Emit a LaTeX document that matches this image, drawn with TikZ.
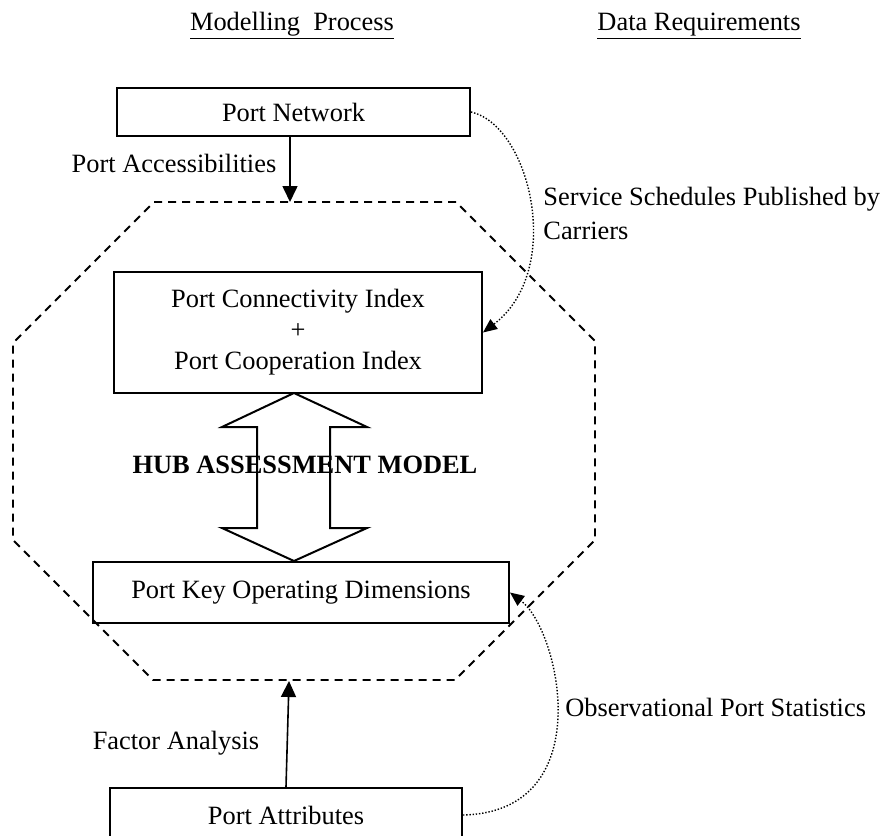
\documentclass[tikz,border=0pt]{standalone}
\usepackage{fontspec}
\setmainfont{Liberation Serif}
\usetikzlibrary{arrows.meta}
\begin{document}
\begin{tikzpicture}[x=0.5pt,y=-0.5pt,
  txt/.style={font=\fontsize{13.2pt}{15.5pt}\selectfont, inner sep=0pt},
  box/.style={txt, draw, line width=1pt, align=center},
  arr/.style={line width=0.8pt, -{Triangle[length=8pt,width=7.5pt]}},
  dotarr/.style={line width=0.7pt, dash pattern=on 0.7pt off 0.9pt, -{Triangle[length=7pt,width=6pt]}},
  octo/.style={line width=0.9pt, dash pattern=on 4pt off 3pt, line join=round},
  bigarrow/.style={line width=1pt, line join=miter}]
\useasboundingbox (0,0) rectangle (885,836);
\clip (0,0) rectangle (885,836);

% headings
\node[txt, anchor=base] (h1) at (292,30) {\underline{Modelling\ \ Process}};
\node[txt, anchor=base] (h2) at (699,30) {\underline{Data Requirements}};

% hub octagon
\draw[octo] (154,202) -- (456,202) -- (595,341) -- (595,540) -- (455,680)
  -- (153,680) -- (13,540) -- (13,343) -- cycle;
\coordinate (octtop) at (290,202);
\coordinate (octbot) at (289,681);

% boxes
\node[box, minimum width=176.5pt, minimum height=24pt] (net) at (293.5,112) {Port Network};
\node[box, minimum width=184pt, minimum height=60.5pt] (conn) at (298,332.5)
  {Port Connectivity Index\\+\\Port Cooperation Index};
\node[box, minimum width=208pt, minimum height=30.5pt] (key) at (301,592.5) {Port Key Operating Dimensions};
\node[box, minimum width=176pt, minimum height=27pt] (attr) at (286,815) {Port Attributes};

% double arrow
\draw[bigarrow] (294,393) -- (367,427) -- (330,427) -- (330,528) -- (367,528)
  -- (294,561) -- (222,528) -- (257,528) -- (257,427) -- (222,427) -- cycle;
\node[txt, font=\fontsize{13.2pt}{15.5pt}\selectfont\bfseries] (hub) at (305,465) {HUB ASSESSMENT MODEL};

% labels
\node[txt] (acc) at (174,163) {Port Accessibilities};
\node[txt, font=\fontsize{13.2pt}{17pt}\selectfont, align=left, anchor=north west] (svc) at (543,187)
  {Service Schedules Published by\\Carriers};
\node[txt, anchor=west] (obs) at (565,707) {Observational Port Statistics};
\node[txt] (fac) at (176,743) {Factor Analysis};

% connectors
\draw[arr] (net.south -| octtop) -- (octtop);
\draw[arr] (attr.north) -- (octbot);
\draw[dotarr] (net.east) .. controls (530,125) and (565,270) .. (conn.east);
\draw[dotarr] (attr.east) .. controls (600,812) and (560,630) .. (key.east);
\end{tikzpicture}
\end{document}
